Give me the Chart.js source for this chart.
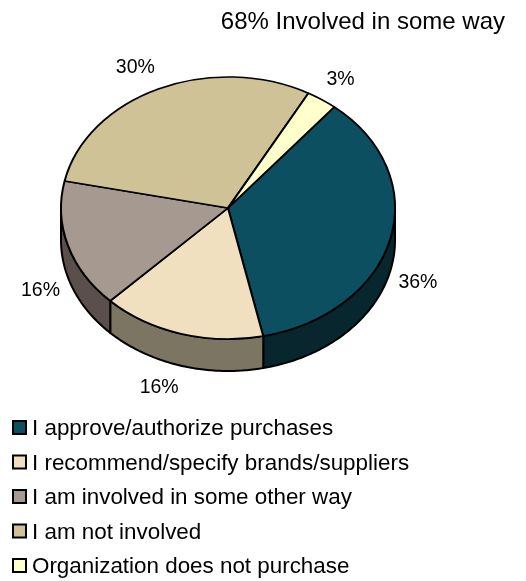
<!DOCTYPE html>
<html>
<head>
<meta charset="utf-8">
<style>
  html, body { margin: 0; padding: 0; background: #fff; }
  canvas { display: block; }
</style>
<script src="https://cdn.jsdelivr.net/npm/chart.js@4.4.1/dist/chart.umd.min.js"></script>
</head>
<body>
<canvas id="c" width="526" height="581"></canvas>
<script>
// Purchase involvement survey
const categories = [
  'I approve/authorize purchases',
  'I recommend/specify brands/suppliers',
  'I am involved in some other way',
  'I am not involved',
  'Organization does not purchase'
];
const shares = [36, 16, 16, 30, 3];
const topColors = ['#0C4F60', '#F0E0C0', '#A69A90', '#CFC297', '#FFFFCC'];
const sideColors = ['#07262E', '#7C7562', '#5A4F4A', '#6A6350', '#808066'];
const titleText = '68% Involved in some way';

const FONT = '"Liberation Sans", Arial, Helvetica, sans-serif';
// Where the tilted disc sits and how thick it is
const PIE = { cx: 228, cy: 208, radius: 167, tilt: 131 / 167, depth: 32 };

// Angle ranges of an arc that face the viewer (lower half of the disc)
function frontRanges(s, e) {
  const out = [];
  for (let k = -2; k <= 2; k++) {
    const lo = Math.max(s, 2 * Math.PI * k);
    const hi = Math.min(e, 2 * Math.PI * k + Math.PI);
    if (hi > lo) out.push([lo, hi]);
  }
  return out;
}

const pie3d = {
  id: 'pie3d',
  beforeDatasetsDraw(chart) {
    const ctx = chart.ctx;
    const arcs = chart.getDatasetMeta(0).data;
    const { cx, cy, tilt, depth } = PIE;
    const r = arcs[0].outerRadius;

    // Side walls of the front-facing slices
    ctx.save();
    ctx.lineWidth = 2;
    ctx.lineJoin = 'round';
    ctx.strokeStyle = '#000';
    arcs.forEach((arc, i) => {
      frontRanges(arc.startAngle, arc.endAngle).forEach(([s, e]) => {
        const n = 80;
        ctx.beginPath();
        for (let j = 0; j <= n; j++) {
          const t = s + (e - s) * j / n;
          const x = cx + r * Math.cos(t), y = cy + r * tilt * Math.sin(t);
          if (j === 0) ctx.moveTo(x, y); else ctx.lineTo(x, y);
        }
        for (let j = n; j >= 0; j--) {
          const t = s + (e - s) * j / n;
          ctx.lineTo(cx + r * Math.cos(t), cy + r * tilt * Math.sin(t) + depth);
        }
        ctx.closePath();
        ctx.fillStyle = sideColors[i];
        ctx.fill();
        ctx.stroke();
      });
    });
    ctx.restore();

    // Squash the top faces into an ellipse around the disc centre
    const a = arcs[0];
    ctx.save();
    ctx.translate(cx, cy);
    ctx.scale(1, tilt);
    ctx.translate(-a.x, -a.y);
  },
  afterDatasetsDraw(chart) {
    const ctx = chart.ctx;
    ctx.restore();

    const arcs = chart.getDatasetMeta(0).data;
    const { cx, cy, tilt, depth } = PIE;
    const r = arcs[0].outerRadius;

    // Percentage labels outside each slice
    ctx.save();
    ctx.font = '19.5px ' + FONT;
    ctx.fillStyle = '#000';
    ctx.textAlign = 'center';
    ctx.textBaseline = 'middle';
    arcs.forEach((arc, i) => {
      const m = (arc.startAngle + arc.endAngle) / 2;
      const c = Math.cos(m), s = Math.sin(m);
      const txt = shares[i] + '%';
      const w = ctx.measureText(txt).width;
      const x = cx + r * 1.05 * c + Math.sign(c) * w / 2;
      const y = cy + r * tilt * 1.1 * s + (s > 0 ? depth : 0) + Math.sign(s) * 9;
      ctx.fillText(txt, x, y);
    });
    ctx.restore();
  },
  afterDraw(chart) {
    // Legend: one row per category, stacked under the pie
    const ctx = chart.ctx;
    ctx.save();
    ctx.font = '22.4px ' + FONT;
    ctx.textAlign = 'left';
    ctx.textBaseline = 'middle';
    categories.forEach((name, i) => {
      const yc = 428 + i * 34.5;
      ctx.fillStyle = topColors[i];
      ctx.fillRect(13, yc - 7, 13, 13);
      ctx.lineWidth = 2;
      ctx.strokeStyle = '#000';
      ctx.strokeRect(13, yc - 7, 13, 13);
      ctx.fillStyle = '#000';
      ctx.fillText(name, 32, yc + 1);
    });
    ctx.restore();
  }
};

new Chart(document.getElementById('c'), {
  type: 'pie',
  data: {
    labels: categories,
    datasets: [{
      data: shares,
      backgroundColor: topColors,
      borderColor: '#000',
      borderWidth: 2,
      hoverOffset: 0
    }]
  },
  options: {
    responsive: false,
    devicePixelRatio: 1,
    animation: false,
    events: [],
    radius: PIE.radius,
    rotation: 39.5,
    layout: { padding: { right: 21 } },
    plugins: {
      legend: { display: false },
      tooltip: { enabled: false },
      title: {
        display: true,
        text: titleText,
        align: 'end',
        color: '#000',
        font: { size: 24, family: FONT, weight: 'normal' },
        padding: { top: 8, bottom: 4 }
      }
    }
  },
  plugins: [pie3d]
});
</script>
</body>
</html>
